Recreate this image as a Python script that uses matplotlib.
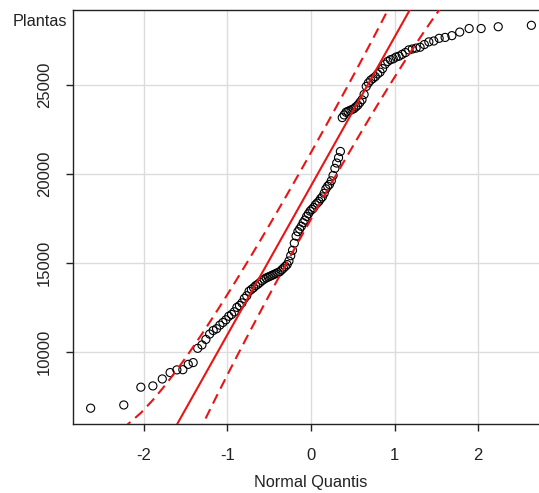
import numpy as np
import matplotlib
matplotlib.use("Agg")
import matplotlib.pyplot as plt
from statistics import NormalDist

plt.rcParams["font.family"] = ["Liberation Sans", "DejaVu Sans"]
plt.rcParams["axes.unicode_minus"] = False

# valores ordenados de Plantas
plantas = [
    6840, 7020, 8020, 8090, 8480, 8840, 8990, 9000, 9300, 9400,
    10200, 10390, 10700, 11000, 11200, 11300, 11500, 11650, 11800, 12000,
    12100, 12250, 12500, 12600, 12750, 13000, 13150, 13400, 13500, 13600,
    13720, 13800, 13900, 14000, 14080, 14150, 14200, 14250, 14300, 14350,
    14400, 14450, 14500, 14600, 14700, 14800, 14900, 15100, 15400, 15700,
    16100, 16500, 16750, 16900, 17050, 17250, 17400, 17600, 17750, 17900,
    18000, 18100, 18250, 18350, 18450, 18600, 18700, 18900, 19150, 19300,
    19400, 19600, 19900, 20300, 20600, 20900, 21250, 23150, 23300, 23450,
    23500, 23550, 23600, 23650, 23750, 23850, 24000, 24150, 24450, 24900,
    25100, 25250, 25350, 25450, 25600, 25700, 25900, 26150, 26300, 26400,
    26450, 26550, 26600, 26700, 26800, 26950, 27000, 27050, 27100, 27250,
    27400, 27450, 27600, 27650, 27750, 27950, 28150, 28150, 28250, 28330,
]
x_ticks = [-2, -1, 0, 1, 2]
y_ticks = [10000, 15000, 20000, 25000]

y = np.sort(np.array(plantas, dtype=float))
n = len(y)
nd = NormalDist()
P = (np.arange(1, n + 1) - 0.5) / n
z = np.array([nd.inv_cdf(p) for p in P])

# reta pelos quartis + envelope de 95% (como car::qqPlot)
q1, q3 = np.percentile(y, [25, 75])
b = (q3 - q1) / (nd.inv_cdf(0.75) - nd.inv_cdf(0.25))
a = q1 - b * nd.inv_cdf(0.25)
dens = np.array([nd.pdf(v) for v in z])
se = (b / dens) * np.sqrt(P * (1 - P) / n)
fit = a + b * z
upper = fit + 1.96 * se
lower = fit - 1.96 * se

fig = plt.figure(figsize=(5.39, 4.93), dpi=100)
ax = fig.add_axes([73 / 539, 69.5 / 493, 476 / 539, 413.5 / 493])

xr = z.max() - z.min()
yr = y.max() - y.min()
ax.set_xlim(z.min() - 0.04 * xr, z.max() + 0.04 * xr)
ax.set_ylim(y.min() - 0.04 * yr, y.max() + 0.04 * yr)

ax.set_xticks(x_ticks)
ax.set_yticks(y_ticks)
ax.grid(True, color="#dcdcdc", lw=1.0, zorder=0)
ax.set_axisbelow(True)

red = "#e81515"
ax.scatter(z, y, s=34, facecolors="none", edgecolors="black", linewidths=0.8, zorder=3)
xx = np.array(ax.get_xlim())
ax.plot(xx, a + b * xx, color=red, lw=1.5, zorder=4)
ax.plot(z, upper, color=red, lw=1.5, ls=(0, (5, 3)), zorder=4)
ax.plot(z, lower, color=red, lw=1.5, ls=(0, (5, 3)), zorder=4)

for s in ["left", "bottom", "top"]:
    ax.spines[s].set_color("#222222")
    ax.spines[s].set_linewidth(1.0)
ax.spines["right"].set_visible(False)

ax.tick_params(axis="both", length=5, width=1.0, color="#222222",
               labelsize=12, labelcolor="#222222")
ax.tick_params(axis="x", pad=13)
ax.tick_params(axis="y", pad=10)
for lab in ax.get_yticklabels():
    lab.set_rotation(90)
    lab.set_va("center")

ax.set_xlabel("Normal Quantis", fontsize=11.7, labelpad=8, color="#222222")
fig.text(40 / 539, 1 - 21 / 493, "Plantas", fontsize=11.7, ha="center", va="center",
         color="#222222")

fig.savefig("out.png", dpi=100)
